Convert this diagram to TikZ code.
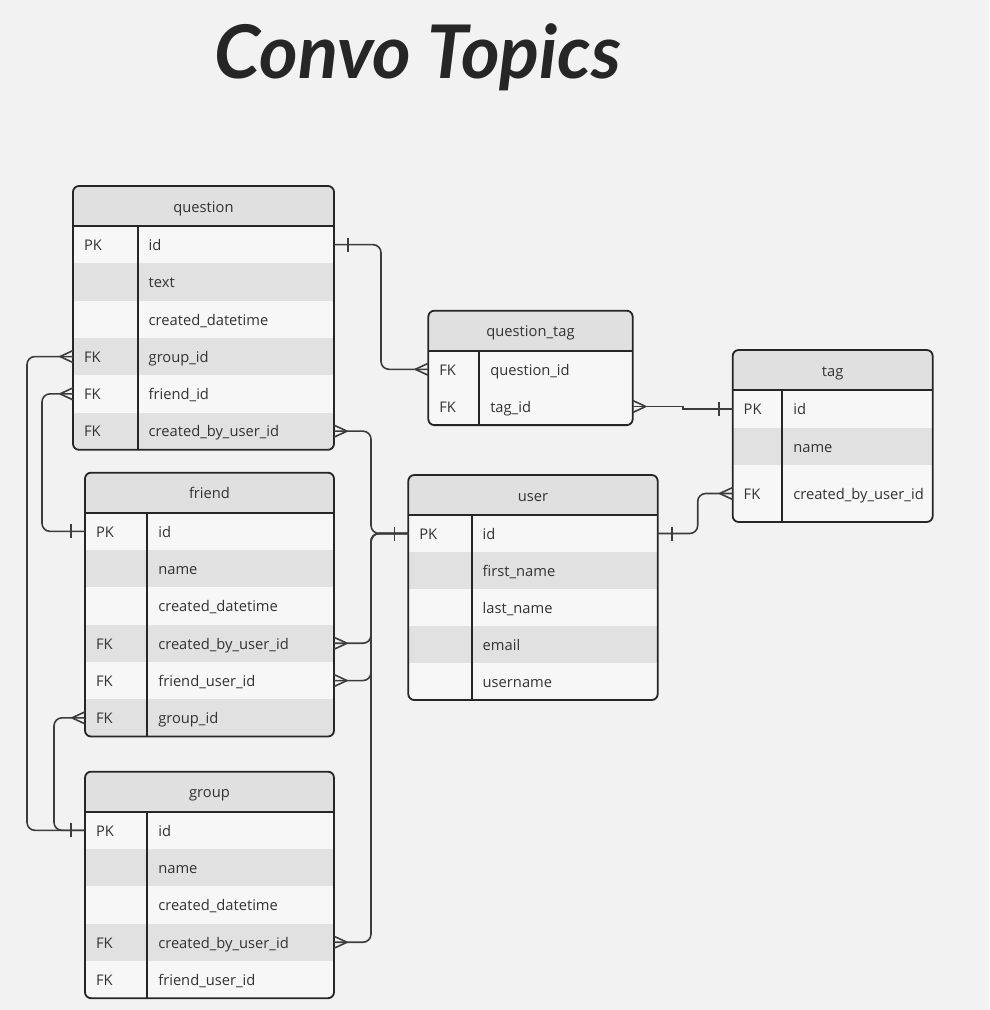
\documentclass[tikz,border=0pt]{standalone}
\usepackage{fontspec}
\setmainfont{Open Sans}
\newfontfamily\titlefont{Lato}
\usetikzlibrary{calc}
\definecolor{bgc}{HTML}{F2F2F2}
\definecolor{headc}{HTML}{E0E0E0}
\definecolor{rowa}{HTML}{F7F7F7}
\definecolor{rowb}{HTML}{E1E1E1}
\definecolor{inkc}{HTML}{262626}
\definecolor{textc}{HTML}{333333}

% one entity box: name, top left, width, key column, title, rows key/field/fill/height
\newcommand{\ertable}[6]{%
  \node[erhead, minimum width=#3, anchor=north west] (#1) at (#2) {#5};
  \xdef\erlast{#1}
  \foreach \k/\f/\c/\h [count=\i] in {#6} {
    \node[errow, fill=\c, minimum width=#3, minimum height=\h, anchor=north] (#1-\i) at (\erlast.south) {};
    \node[ertext, anchor=west] (#1-\i-k) at ($(#1-\i.west)+(11,0)$) {\k};
    \node[ertext, anchor=west] (#1-\i-f) at ($(#1-\i.west)+(#4+11,0)$) {\f};
    \xdef\erlast{#1-\i}
  }
  \fill[bgc, even odd rule] ($(#1.north west)+(-3,-3)$) rectangle ($(\erlast.south east)+(3,3)$)
    [rounded corners=6] (#1.north west) rectangle (\erlast.south east);
  \draw[erline, rounded corners=6] (#1.north west) rectangle (\erlast.south east);
  \draw[erline] (#1.south west) -- (#1.south east);
  \path (#1.south west) ++(#4,0) coordinate (#1-top);
  \draw[erline] (#1-top) -- (#1-top |- \erlast.south);
}

\begin{document}
\begin{tikzpicture}[x=1pt,y=-1pt,
  erhead/.style={fill=headc, minimum height=40, inner sep=0, outer sep=0, text=textc, text height=13, text depth=0.5, font=\fontsize{14.7}{18}\selectfont},
  errow/.style={inner sep=0, outer sep=0},
  ertext/.style={inner sep=0, outer sep=0, text=textc, text height=12, text depth=0.5, font=\fontsize{14.7}{18}\selectfont},
  erline/.style={draw=inkc, line width=1.8pt},
  link/.style={draw=inkc!90, line width=1.6pt, rounded corners=8},
  onebar/.pic={\draw[link] (14,-7) -- (14,7);},
  crowfoot/.pic={\draw[link] (13,0) -- (0,-6) (13,0) -- (0,6);}]

\fill[bgc] (0,0) rectangle (989,1010);
\node[anchor=base, text=inkc, font=\titlefont\bfseries\itshape\fontsize{74}{84}\selectfont] (title) at (418,78) {Convo Topics};

\ertable{question}{73,186}{261}{64.7}{question}{PK/id/rowa/37.3, /text/rowb/37.3, /created\_datetime/rowa/37.3, FK/group\_id/rowb/37.3, FK/friend\_id/rowa/37.3, FK/created\_by\_user\_id/rowb/37.3}
\ertable{qtag}{428.3,310.7}{204.4}{51}{question\_tag}{FK/question\_id/rowa/37.2, FK/tag\_id/rowa/37.2}
\ertable{tag}{732.7,350}{200}{49.6}{tag}{PK/id/rowa/38, /name/rowb/37, FK/created\_by\_user\_id/rowa/57}
\ertable{user}{408.3,475}{249.4}{63.4}{user}{PK/id/rowa/37, /first\_name/rowb/37, /last\_name/rowa/37, /email/rowb/37, /username/rowa/37}
\ertable{friend}{85,472.7}{249}{62.3}{friend}{PK/id/rowa/37.3, /name/rowb/37.3, /created\_datetime/rowa/37.3, FK/created\_by\_user\_id/rowb/37.3, FK/friend\_user\_id/rowa/37.3, FK/group\_id/rowb/37.3}
\ertable{group}{85,771.7}{249}{62.3}{group}{PK/id/rowa/37.3, /name/rowb/37.3, /created\_datetime/rowa/37.3, FK/created\_by\_user\_id/rowb/37.3, FK/friend\_user\_id/rowa/37.3}

% question -- question_tag -- tag
\draw[link] (question-1.east) -- ++(47,0) |- (qtag-1.west);
\pic at (question-1.east) {onebar};
\pic[xscale=-1] at (qtag-1.west) {crowfoot};
\draw[link, sharp corners] (qtag-2.east) -- ++(50,0) |- (tag-1.west);
\pic at (qtag-2.east) {crowfoot};
\pic[xscale=-1] at (tag-1.west) {onebar};

% user links
\draw[link] (user-1.east) -- ++(40,0) |- (tag-3.west);
\pic at (user-1.east) {onebar};
\pic[xscale=-1] at (tag-3.west) {crowfoot};
\draw[link] (question-6.east) -- ++(37,0) |- (user-1.west);
\draw[link] (friend-4.east) -- ++(37,0) |- (user-1.west);
\draw[link] (friend-5.east) -- ++(37,0) |- (user-1.west);
\draw[link] (group-4.east) -- ++(37,0) |- (user-1.west);
\pic at (question-6.east) {crowfoot};
\pic at (friend-4.east) {crowfoot};
\pic at (friend-5.east) {crowfoot};
\pic at (group-4.east) {crowfoot};
\pic[xscale=-1] at (user-1.west) {onebar};

% left side links
\draw[link] (question-4.west) -- ++(-46,0) |- (group-1.west);
\draw[link] (question-5.west) -- ++(-31,0) |- (friend-1.west);
\draw[link] (friend-6.west) -- ++(-31,0) |- (group-1.west);
\pic[xscale=-1] at (question-4.west) {crowfoot};
\pic[xscale=-1] at (question-5.west) {crowfoot};
\pic[xscale=-1] at (friend-6.west) {crowfoot};
\pic[xscale=-1] at (friend-1.west) {onebar};
\pic[xscale=-1] at (group-1.west) {onebar};
\end{tikzpicture}
\end{document}
